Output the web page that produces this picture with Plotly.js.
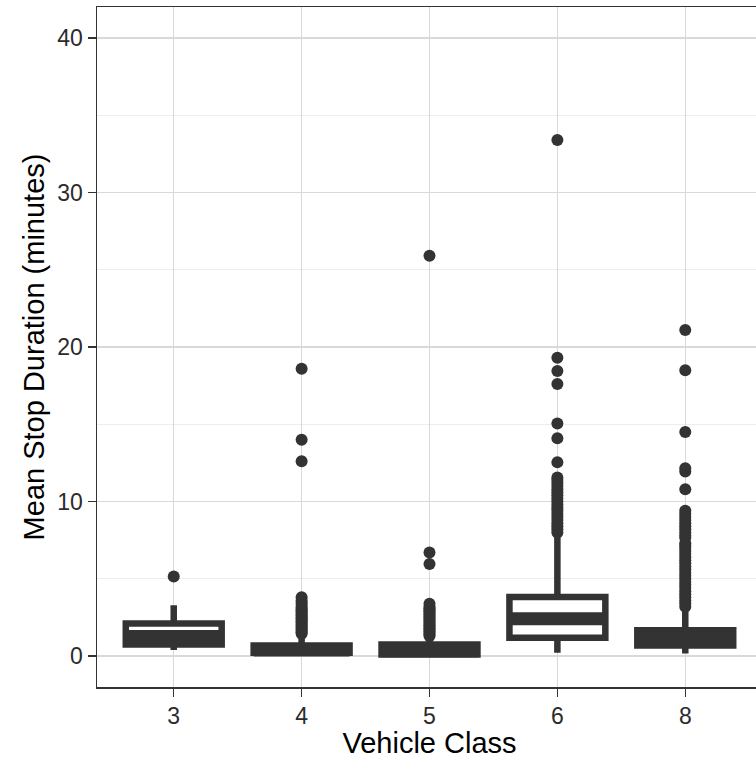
<!DOCTYPE html>
<html>
<head>
<meta charset="utf-8">
<script src="https://cdn.plot.ly/plotly-3.0.1.min.js"></script>
<style>
html, body { margin:0; padding:0; overflow:hidden; background:#fff; }
#chart { width:762px; height:759px; }
</style>
</head>
<body>
<div id="chart"></div>
<script>
// Categories (vehicle class) and box statistics (minutes)
const categories = ['3', '4', '5', '6', '8'];
const q1 = [0.75, 0.21, 0.11, 1.19, 0.69];
const medians = [1.26, 0.40, 0.35, 2.41, 1.15];
const q3 = [2.11, 0.69, 0.75, 3.82, 1.68];
const lowerWhisker = [0.39, 0.03, 0.00, 0.22, 0.17];
const upperWhisker = [3.29, 1.40, 1.25, 7.85, 3.10];

// Outliers per class
const outliers3 = [5.15];
const outliers4 = [1.45, 1.55, 1.65, 1.75, 1.85, 1.95, 2.05, 2.15, 2.25, 2.35, 2.45, 2.55, 2.65, 2.75, 2.85, 2.95, 3.05, 3.15, 3.3, 3.45, 3.6, 3.8, 12.6, 14.0, 18.6];
const outliers5 = [1.3, 1.4, 1.5, 1.6, 1.7, 1.8, 1.9, 2.0, 2.1, 2.2, 2.3, 2.4, 2.5, 2.6, 2.7, 2.8, 2.9, 3.0, 3.1, 3.2, 3.38, 5.96, 6.7, 25.9];
const outliers6 = [8.0, 8.2, 8.4, 8.6, 8.8, 9.0, 9.2, 9.4, 9.6, 9.8, 10.0, 10.2, 10.4, 10.6, 10.8, 11.0, 11.2, 11.4, 11.55, 12.55, 14.1, 15.05, 17.6, 18.45, 19.3, 33.4];
const outliers8 = [3.2, 3.4, 3.6, 3.8, 4.0, 4.2, 4.4, 4.6, 4.8, 5.0, 5.2, 5.4, 5.6, 5.8, 6.0, 6.2, 6.4, 6.6, 6.8, 7.0, 7.15, 7.3, 7.65, 7.8, 8.0, 8.2, 8.4, 8.6, 8.8, 9.0, 9.2, 9.4, 10.8, 11.94, 12.15, 14.5, 18.5, 21.1];
const outlierSets = [outliers3, outliers4, outliers5, outliers6, outliers8];

const yTickVals = [0, 10, 20, 30, 40];

const dark = '#333333';
const positions = categories.map((c, i) => i + 1);
const boxWidth = 0.75;

const traces = [];
traces.push({
  type: 'box',
  x: positions,
  q1: q1, median: medians, q3: q3,
  lowerfence: lowerWhisker, upperfence: upperWhisker,
  width: boxWidth,
  whiskerwidth: 0,
  fillcolor: '#ffffff',
  line: { color: dark, width: 6.5 },
  boxpoints: false,
  hoverinfo: 'skip',
  showlegend: false
});
// thicker median bars (ggplot fatten = 2)
positions.forEach((p, i) => {
  traces.push({
    type: 'scatter', mode: 'lines',
    x: [p - boxWidth / 2, p + boxWidth / 2],
    y: [medians[i], medians[i]],
    line: { color: dark, width: 13 },
    hoverinfo: 'skip', showlegend: false
  });
});
// outliers
const ox = [], oy = [];
outlierSets.forEach((arr, i) => arr.forEach(v => { ox.push(positions[i]); oy.push(v); }));
traces.push({
  type: 'scatter', mode: 'markers',
  x: ox, y: oy,
  marker: { color: dark, size: 12 },
  showlegend: false
});

const font = 'Liberation Sans, Arial, Helvetica, sans-serif';
const layout = {
  width: 762, height: 759,
  margin: { l: 97, r: 0, t: 7, b: 72 },
  paper_bgcolor: '#ffffff', plot_bgcolor: '#ffffff',
  font: { family: font, color: '#333333' },
  showlegend: false,
  xaxis: {
    range: [0.4, 5.6],
    tickvals: positions, ticktext: categories,
    tickfont: { family: font, size: 23, color: '#2b2b2b' },
    ticks: 'outside', ticklen: 8, tickcolor: dark, tickwidth: 1.5,
    showgrid: true, gridcolor: '#d9d9d9', gridwidth: 1.2,
    showline: true, linecolor: dark, linewidth: 1.5, mirror: true,
    zeroline: false,
    title: { text: 'Vehicle Class', font: { family: font, size: 29, color: '#000000' }, standoff: 6 }
  },
  yaxis: {
    range: [-2, 42],
    tickvals: yTickVals, ticktext: yTickVals.map(String),
    tickfont: { family: font, size: 23, color: '#2b2b2b' },
    ticks: 'outside', ticklen: 8, tickcolor: dark, tickwidth: 1.5,
    showgrid: true, gridcolor: '#d9d9d9', gridwidth: 1.2,
    minor: { tickvals: [5, 15, 25, 35], showgrid: true, gridcolor: '#ededed', gridwidth: 1, ticks: '' },
    showline: true, linecolor: dark, linewidth: 1.5, mirror: true,
    zeroline: false,
    title: { text: 'Mean Stop Duration (minutes)', font: { family: font, size: 29, color: '#000000' }, standoff: 4 }
  }
};

Plotly.newPlot('chart', traces, layout, { displayModeBar: false, staticPlot: true });
</script>
</body>
</html>
